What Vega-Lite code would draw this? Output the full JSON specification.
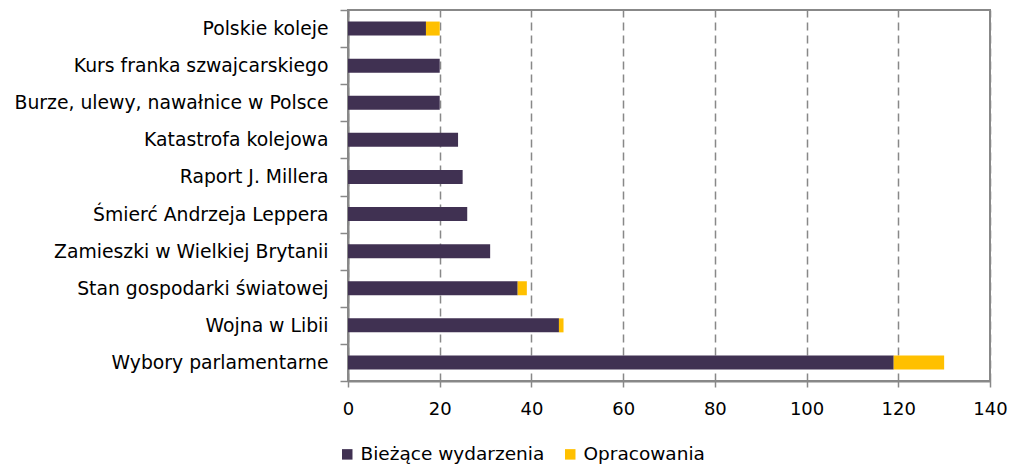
{
  "$schema": "https://vega.github.io/schema/vega-lite/v6.json",
  "width": 642,
  "height": 371,
  "autosize": "none",
  "padding": {"left": 348, "top": 10, "right": 20, "bottom": 84},
  "background": "white",
  "data": {
    "values": [
      {"kategoria": "Polskie koleje", "typ": "Bieżące wydarzenia", "wartosc": 17, "kolejnosc": 1},
      {"kategoria": "Polskie koleje", "typ": "Opracowania", "wartosc": 3, "kolejnosc": 2},
      {"kategoria": "Kurs franka szwajcarskiego", "typ": "Bieżące wydarzenia", "wartosc": 20, "kolejnosc": 1},
      {"kategoria": "Burze, ulewy, nawałnice w Polsce", "typ": "Bieżące wydarzenia", "wartosc": 20, "kolejnosc": 1},
      {"kategoria": "Katastrofa kolejowa", "typ": "Bieżące wydarzenia", "wartosc": 24, "kolejnosc": 1},
      {"kategoria": "Raport J. Millera", "typ": "Bieżące wydarzenia", "wartosc": 25, "kolejnosc": 1},
      {"kategoria": "Śmierć Andrzeja Leppera", "typ": "Bieżące wydarzenia", "wartosc": 26, "kolejnosc": 1},
      {"kategoria": "Zamieszki w Wielkiej Brytanii", "typ": "Bieżące wydarzenia", "wartosc": 31, "kolejnosc": 1},
      {"kategoria": "Stan gospodarki światowej", "typ": "Bieżące wydarzenia", "wartosc": 37, "kolejnosc": 1},
      {"kategoria": "Stan gospodarki światowej", "typ": "Opracowania", "wartosc": 2, "kolejnosc": 2},
      {"kategoria": "Wojna w Libii", "typ": "Bieżące wydarzenia", "wartosc": 46, "kolejnosc": 1},
      {"kategoria": "Wojna w Libii", "typ": "Opracowania", "wartosc": 1, "kolejnosc": 2},
      {"kategoria": "Wybory parlamentarne", "typ": "Bieżące wydarzenia", "wartosc": 119, "kolejnosc": 1},
      {"kategoria": "Wybory parlamentarne", "typ": "Opracowania", "wartosc": 11, "kolejnosc": 2}
    ]
  },
  "mark": {"type": "bar", "size": 14},
  "encoding": {
    "y": {
      "field": "kategoria",
      "type": "nominal",
      "sort": null,
      "scale": {"paddingInner": 0, "paddingOuter": 0},
      "axis": {
        "title": null,
        "tickBand": "extent",
        "tickSize": 8,
        "tickColor": "#888888",
        "tickWidth": 1.5,
        "domainColor": "#888888",
        "domainWidth": 2,
        "labelFont": "DejaVu Sans",
        "labelFontSize": 18.8,
        "labelColor": "#000000",
        "labelPadding": 12,
        "labelLimit": 0,
        "grid": false
      }
    },
    "x": {
      "field": "wartosc",
      "type": "quantitative",
      "stack": "zero",
      "scale": {"domain": [0, 140], "nice": false},
      "axis": {
        "title": null,
        "values": [0, 20, 40, 60, 80, 100, 120, 140],
        "tickSize": 6,
        "tickColor": "#888888",
        "tickWidth": 1.5,
        "domainColor": "#888888",
        "domainWidth": 2,
        "labelFont": "DejaVu Sans",
        "labelFontSize": 18,
        "labelColor": "#000000",
        "labelPadding": 13,
        "labelFlush": false,
        "grid": true,
        "gridColor": "#888888",
        "gridWidth": 1.5,
        "gridDash": [8, 5]
      }
    },
    "color": {
      "field": "typ",
      "type": "nominal",
      "scale": {"domain": ["Bieżące wydarzenia", "Opracowania"], "range": ["#403152", "#FFC000"]},
      "legend": {
        "title": null,
        "orient": "none",
        "direction": "horizontal",
        "legendX": -10,
        "legendY": 435,
        "symbolType": "square",
        "symbolSize": 110,
        "symbolStrokeWidth": 0,
        "labelFont": "DejaVu Sans",
        "labelFontSize": 18.5,
        "labelLimit": 0,
        "labelColor": "#000000",
        "labelOffset": 4,
        "columnPadding": 16
      }
    },
    "order": {"field": "kolejnosc", "type": "quantitative"}
  },
  "config": {
    "view": {"stroke": "#888888", "strokeWidth": 2}
  }
}
